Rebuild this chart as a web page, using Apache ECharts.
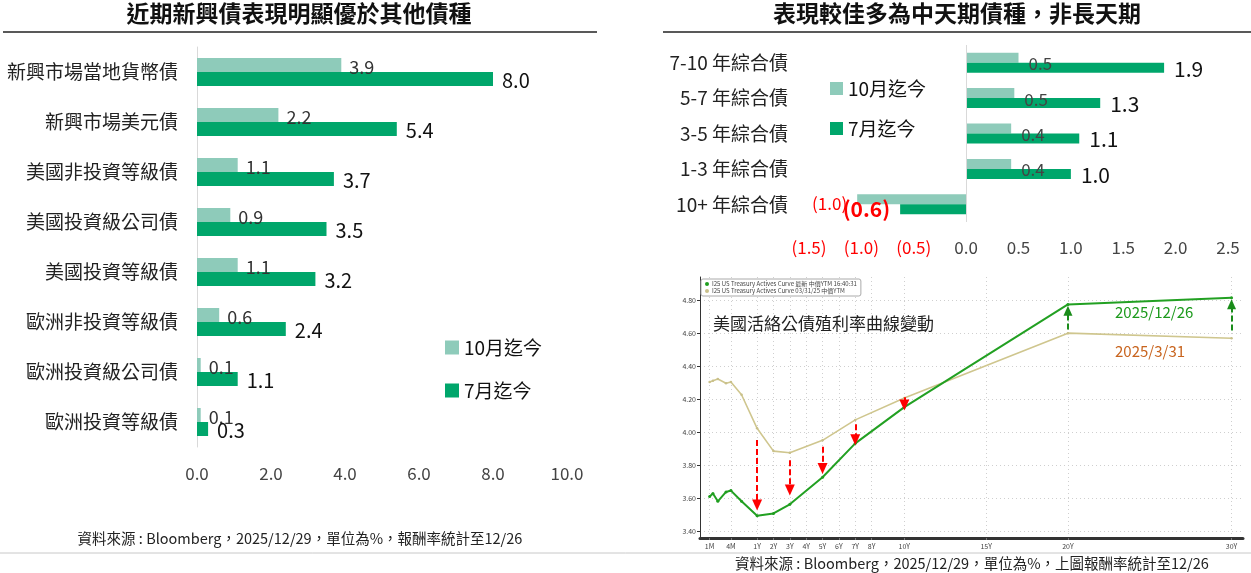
<!DOCTYPE html>
<html>
<head>
<meta charset="utf-8">
<script src="https://cdn.jsdelivr.net/npm/echarts@6/dist/echarts.min.js"></script>
<style>
  html, body { margin: 0; padding: 0; background: #fff; }
  #main { width: 1251px; height: 573px; }
</style>
</head>
<body>
<div id="main"></div>
<script>
// left panel: emerging vs others
var leftCats = ['新興市場當地貨幣債', '新興市場美元債', '美國非投資等級債', '美國投資級公司債', '美國投資等級債', '歐洲非投資等級債', '歐洲投資級公司債', '歐洲投資等級債'];
var leftOct = [3.9, 2.2, 1.1, 0.9, 1.1, 0.6, 0.1, 0.1];
var leftJul = [8.0, 5.4, 3.7, 3.5, 3.2, 2.4, 1.1, 0.3];
var leftTicks = [0, 10, 2];

// right top panel: by maturity
var rightCats = ['7-10 年綜合債', '5-7 年綜合債', '3-5 年綜合債', '1-3 年綜合債', '10+ 年綜合債'];
var rightOct = [0.50, 0.46, 0.43, 0.43, -1.04];
var rightJul = [1.89, 1.28, 1.08, 1.00, -0.63];
var rightTicks = [-1.5, 2.5, 0.5];

// right bottom panel: treasury curve
var tenorPos = [-1.9, -1.7, -1.4, -0.9, -0.6, 0.05, 1, 2, 3, 5, 7, 10, 20, 30];
var curveNow = [3.611, 3.629, 3.582, 3.639, 3.647, 3.582, 3.495, 3.509, 3.564, 3.728, 3.933, 4.152, 4.774, 4.814];
var curveMar = [4.304, 4.312, 4.322, 4.297, 4.304, 4.227, 4.024, 3.886, 3.876, 3.951, 4.075, 4.208, 4.600, 4.569];
var tenorTickPos = [-1.9, -0.6, 1, 2, 3, 4, 5, 6, 7, 8, 10, 15, 20, 30];
var tenorTickLabels = ['1M', '4M', '1Y', '2Y', '3Y', '4Y', '5Y', '6Y', '7Y', '8Y', '10Y', '15Y', '20Y', '30Y'];
var yieldTicks = [3.4, 3.6, 3.8, 4.0, 4.2, 4.4, 4.6, 4.8];
var downArrows = [[1, 3.953, 3.56], [3, 3.831, 3.65], [5, 3.912, 3.78], [7, 4.048, 3.955], [10, 4.212, 4.165]];
var upArrows = [[20, 4.622, 4.735], [30, 4.616, 4.775]];

var lightGreen = '#8ecbba';
var darkGreen = '#00a66b';
var font = "'Noto Sans CJK TC', 'Noto Sans', sans-serif";

function fmtNum(v) {
    return v < 0 ? '(' + Math.abs(v).toFixed(1) + ')' : v.toFixed(1);
}

function rightItems(arr, big) {
    return arr.map(function (v) {
        if (v < 0) {
            return {
                value: v,
                label: {
                    position: 'left',
                    color: '#ff0000',
                    fontWeight: big ? 'bold' : 'normal',
                    offset: big ? [0, 0] : [0, 4]
                }
            };
        }
        return v;
    });
}

function arrowLines(list) {
    return list.map(function (a) {
        return [{ coord: [a[0], a[1]] }, { coord: [a[0], a[2]] }];
    });
}

var myChart = echarts.init(document.getElementById('main'));

var option = {
    animation: false,
    textStyle: { fontFamily: font },
    graphic: [
        { type: 'text', x: 299, y: 13, style: { text: '近期新興債表現明顯優於其他債種', font: 'bold 23px ' + font, fill: '#111', align: 'center', verticalAlign: 'middle' } },
        { type: 'line', shape: { x1: 3, y1: 32, x2: 597, y2: 32 }, style: { stroke: '#222', lineWidth: 1.5 } },
        { type: 'text', x: 957, y: 13, style: { text: '表現較佳多為中天期債種，非長天期', font: 'bold 23px ' + font, fill: '#111', align: 'center', verticalAlign: 'middle' } },
        { type: 'line', shape: { x1: 663, y1: 32, x2: 1251, y2: 32 }, style: { stroke: '#222', lineWidth: 1.5 } },
        { type: 'text', x: 300, y: 538, style: { text: '資料來源 : Bloomberg，2025/12/29，單位為%，報酬率統計至12/26', font: '14.5px ' + font, fill: '#222', align: 'center', verticalAlign: 'middle' } },
        { type: 'line', shape: { x1: 0, y1: 553, x2: 1251, y2: 553 }, style: { stroke: '#c8c8c8', lineWidth: 1 } },
        { type: 'text', x: 972, y: 563, style: { text: '資料來源 : Bloomberg，2025/12/29，單位為%，上圖報酬率統計至12/26', font: '14.5px ' + font, fill: '#222', align: 'center', verticalAlign: 'middle' } },
        { type: 'text', x: 713, y: 324, z: 10, style: { text: '美國活絡公債殖利率曲線變動', font: '17px ' + font, fill: '#222', verticalAlign: 'middle' } },
        { type: 'text', x: 1115, y: 312, z: 10, style: { text: '2025/12/26', font: '15px ' + font, fill: '#1c9a1c', verticalAlign: 'middle' } },
        { type: 'text', x: 1115, y: 351, z: 10, style: { text: '2025/3/31', font: '15px ' + font, fill: '#c8641e', verticalAlign: 'middle' } }
    ],
    legend: [
        {
            data: ['10月迄今', '7月迄今'],
            left: 440, top: 333,
            orient: 'vertical',
            itemWidth: 14, itemHeight: 14, itemGap: 24,
            icon: 'rect',
            textStyle: { fontSize: 19, color: '#111' }
        },
        {
            data: ['10月迄今', '7月迄今'],
            left: 825, top: 74,
            orient: 'vertical',
            itemWidth: 13, itemHeight: 13, itemGap: 21,
            icon: 'rect',
            textStyle: { fontSize: 19, color: '#111' }
        },
        {
            data: ['I25 US Treasury Actives Curve 最新 中價YTM 16:40:31', 'I25 US Treasury Actives Curve 03/31/25 中價YTM'],
            left: 701, top: 279,
            orient: 'vertical',
            icon: 'circle',
            itemWidth: 4, itemHeight: 4, itemGap: 1,
            padding: [2, 4],
            borderColor: '#aaa', borderWidth: 1, borderRadius: 2,
            backgroundColor: '#fff',
            textStyle: { fontSize: 6, color: '#444', padding: [0, 0, 0, -2] }
        }
    ],
    grid: [
        { left: 197, width: 370, top: 47, height: 400 },
        { left: 809, width: 419, top: 45, height: 177 },
        { left: 700, right: 8, top: 277, bottom: 35 }
    ],
    xAxis: [
        {
            gridIndex: 0, type: 'value',
            min: leftTicks[0], max: leftTicks[1], interval: leftTicks[2],
            axisLine: { show: false }, axisTick: { show: false }, splitLine: { show: false },
            axisLabel: { formatter: fmtNum, fontSize: 17, color: '#444', margin: 18 }
        },
        {
            gridIndex: 1, type: 'value',
            min: rightTicks[0], max: rightTicks[1], interval: rightTicks[2],
            axisLine: { show: false }, axisTick: { show: false }, splitLine: { show: false },
            axisLabel: {
                formatter: fmtNum, fontSize: 17, margin: 17,
                color: function (v) { return v < 0 ? '#ff0000' : '#444'; }
            }
        },
        {
            gridIndex: 2, type: 'value',
            min: -2.49, max: 30.7,
            axisLine: { show: true, onZero: false, lineStyle: { color: '#333', width: 3 } },
            axisTick: { show: true, customValues: tenorTickPos, length: 2, lineStyle: { color: '#777' } },
            splitLine: { show: true, lineStyle: { color: '#cfcfcf', type: [1, 3] } },
            axisLabel: {
                customValues: tenorTickPos, fontSize: 7, color: '#444', margin: 5,
                formatter: function (v) {
                    for (var i = 0; i < tenorTickPos.length; i++) {
                        if (Math.abs(tenorTickPos[i] - v) < 0.01) return tenorTickLabels[i];
                    }
                    return '';
                }
            }
        }
    ],
    yAxis: [
        {
            gridIndex: 0, type: 'category', inverse: true, data: leftCats,
            axisLine: { show: true, lineStyle: { color: '#d9d9d9' } },
            axisTick: { show: false },
            axisLabel: { fontSize: 19, color: '#222', margin: 19 }
        },
        {
            gridIndex: 1, type: 'category', inverse: true, data: rightCats,
            axisLine: { show: false, onZero: false },
            axisTick: { show: false },
            axisLabel: { fontSize: 19, color: '#222', margin: 21 }
        },
        {
            gridIndex: 2, type: 'value',
            min: 3.36, max: 4.94, splitNumber: 8,
            axisLine: { show: true, onZero: false, lineStyle: { color: '#333' } },
            axisTick: { show: true, customValues: yieldTicks, length: 3, lineStyle: { color: '#333' } },
            splitLine: { show: true, lineStyle: { color: '#cfcfcf', type: [1, 3] } },
            axisLabel: {
                customValues: yieldTicks, fontSize: 7, color: '#444', margin: 4,
                formatter: function (v) { return v.toFixed(2); }
            }
        }
    ],
    series: [
        {
            name: '10月迄今', type: 'bar', xAxisIndex: 0, yAxisIndex: 0,
            data: leftOct, barWidth: 14, barGap: '0%',
            itemStyle: { color: lightGreen },
            label: { show: true, position: 'right', distance: 8, offset: [0, 2], fontSize: 18, color: '#333', formatter: function (p) { return fmtNum(p.value); } }
        },
        {
            name: '7月迄今', type: 'bar', xAxisIndex: 0, yAxisIndex: 0,
            data: leftJul, barWidth: 14, barGap: '0%',
            itemStyle: { color: darkGreen },
            label: { show: true, position: 'right', distance: 9, offset: [0, 1], fontSize: 20, color: '#111', formatter: function (p) { return fmtNum(p.value); } }
        },
        {
            name: '10月迄今', type: 'bar', xAxisIndex: 1, yAxisIndex: 1,
            data: rightItems(rightOct, false), barWidth: 10, barGap: '0%',
            itemStyle: { color: lightGreen },
            label: { show: true, position: 'right', distance: 10, offset: [0, 6], fontSize: 17, color: '#444', formatter: function (p) { return fmtNum(p.value); } },
            markLine: {
                silent: true, symbol: 'none', label: { show: false },
                lineStyle: { color: '#d9d9d9', type: 'solid', width: 1 },
                data: [{ xAxis: 0 }]
            }
        },
        {
            name: '7月迄今', type: 'bar', xAxisIndex: 1, yAxisIndex: 1,
            data: rightItems(rightJul, true), barWidth: 10, barGap: '0%',
            itemStyle: { color: darkGreen },
            label: { show: true, position: 'right', distance: 10, offset: [0, 1], fontSize: 21, color: '#111', formatter: function (p) { return fmtNum(p.value); } }
        },
        {
            name: 'I25 US Treasury Actives Curve 03/31/25 中價YTM', type: 'line', xAxisIndex: 2, yAxisIndex: 2,
            data: tenorPos.map(function (x, i) { return [x, curveMar[i]]; }),
            symbol: 'circle', symbolSize: 2.5, showSymbol: true,
            itemStyle: { color: '#c9c08a' },
            lineStyle: { color: '#cfc68e', width: 1.6 }
        },
        {
            name: 'I25 US Treasury Actives Curve 最新 中價YTM 16:40:31', type: 'line', xAxisIndex: 2, yAxisIndex: 2,
            data: tenorPos.map(function (x, i) { return [x, curveNow[i]]; }),
            symbol: 'circle', symbolSize: 3, showSymbol: true,
            itemStyle: { color: '#1f9e1f' },
            lineStyle: { color: '#22a022', width: 2 },
            markLine: {
                silent: true, animation: false,
                symbol: ['none', 'triangle'], symbolSize: [10, 11],
                label: { show: false },
                lineStyle: { color: '#ff0000', type: [6, 3], width: 2 },
                data: arrowLines(downArrows)
            }
        },
        {
            name: 'up', type: 'line', xAxisIndex: 2, yAxisIndex: 2, data: [],
            markLine: {
                silent: true, animation: false,
                symbol: ['none', 'triangle'], symbolSize: [9, 10],
                label: { show: false },
                lineStyle: { color: '#1a8c1a', type: [6, 3], width: 2 },
                data: arrowLines(upArrows)
            }
        }
    ]
};

myChart.setOption(option);
</script>
</body>
</html>
